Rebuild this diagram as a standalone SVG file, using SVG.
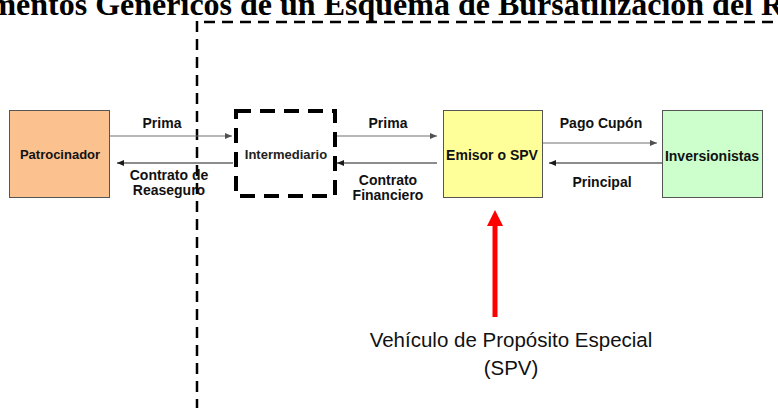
<svg xmlns="http://www.w3.org/2000/svg" width="778" height="408" viewBox="0 0 778 408">
  <defs>
    <style>
      .box { stroke: #555555; stroke-width: 1; }
      .lbl { font-family: "Liberation Sans", Arial, sans-serif; font-weight: bold; font-size: 14px; fill: #111111; text-anchor: middle; }
      .conn { stroke-width: 1.2; fill: none; }
      .fwd { stroke: #707070; }
      .back { stroke: #1a1a1a; }
      .sep { stroke: #000000; stroke-width: 2.5; stroke-dasharray: 11 7; fill: none; }
    </style>
    <marker id="ahG" markerWidth="8" markerHeight="8" refX="7" refY="4" orient="auto" markerUnits="userSpaceOnUse">
      <path d="M0,1 L7,4 L0,7 Z" fill="#505050"/>
    </marker>
    <marker id="ahB" markerWidth="8" markerHeight="8" refX="7" refY="4" orient="auto" markerUnits="userSpaceOnUse">
      <path d="M0,1 L7,4 L0,7 Z" fill="#1a1a1a"/>
    </marker>
  </defs>
  <rect width="778" height="408" fill="#ffffff"/>

  <text x="-55" y="15" font-family="Liberation Serif, 'Times New Roman', serif" font-weight="bold" font-size="32" fill="#000000">Elementos Genéricos de un Esquema de Bursatilización del Riesgo</text>

  <g id="separators">
    <line class="sep" x1="197" y1="21" x2="197" y2="408"/>
    <line class="sep" x1="204" y1="22" x2="778" y2="22"/>
  </g>

  <g id="patrocinador">
    <rect class="box" x="9.5" y="110.5" width="100" height="87" fill="#FBC28F"/>
    <text class="lbl" x="60" y="159" style="font-size:13px">Patrocinador</text>
  </g>
  <g id="intermediario">
    <rect x="236" y="111" width="99" height="85" fill="none" stroke="#000000" stroke-width="4" stroke-dasharray="15 9"/>
    <text class="lbl" x="286" y="159" style="font-size:13px;fill:#222222">Intermediario</text>
  </g>
  <g id="emisor">
    <rect class="box" x="443.5" y="110.5" width="99" height="87" fill="#FFFF99"/>
    <text class="lbl" x="492" y="160">Emisor o SPV</text>
  </g>
  <g id="inversionistas">
    <rect class="box" x="662.5" y="110.5" width="100" height="87" fill="#CCFFCC"/>
    <text class="lbl" x="712" y="161">Inversionistas</text>
  </g>

  <g id="connectors">
    <line class="conn fwd" x1="110" y1="136" x2="232" y2="136" marker-end="url(#ahG)"/>
    <line class="conn back" x1="233" y1="163" x2="117" y2="163" marker-end="url(#ahB)"/>
    <line class="conn fwd" x1="337" y1="136" x2="437" y2="136" marker-end="url(#ahG)"/>
    <line class="conn back" x1="437" y1="163" x2="337" y2="163" marker-end="url(#ahB)"/>
    <line class="conn fwd" x1="543" y1="143" x2="657" y2="143" marker-end="url(#ahG)"/>
    <line class="conn back" x1="662" y1="163" x2="549" y2="163" marker-end="url(#ahB)"/>
    <line x1="495" y1="317" x2="495" y2="226" stroke="#FF0000" stroke-width="5"/>
    <path d="M487,226 L495,210 L503,226 Z" fill="#FF0000"/>
  </g>

  <g id="labels">
    <text class="lbl" x="162" y="128">Prima</text>
    <text class="lbl" x="169" y="180">Contrato de</text>
    <text class="lbl" x="169" y="195">Reaseguro</text>
    <text class="lbl" x="388" y="128">Prima</text>
    <text class="lbl" x="388" y="185">Contrato</text>
    <text class="lbl" x="388" y="200">Financiero</text>
    <text class="lbl" x="601" y="128">Pago Cupón</text>
    <text class="lbl" x="602" y="187">Principal</text>
  </g>

  <g id="spv-note">
    <text x="511" y="347" font-family="Liberation Sans, Arial, sans-serif" font-size="20.5" fill="#111111" text-anchor="middle">Vehículo de Propósito Especial</text>
    <text x="511" y="375" font-family="Liberation Sans, Arial, sans-serif" font-size="20.5" fill="#111111" text-anchor="middle">(SPV)</text>
  </g>
</svg>
